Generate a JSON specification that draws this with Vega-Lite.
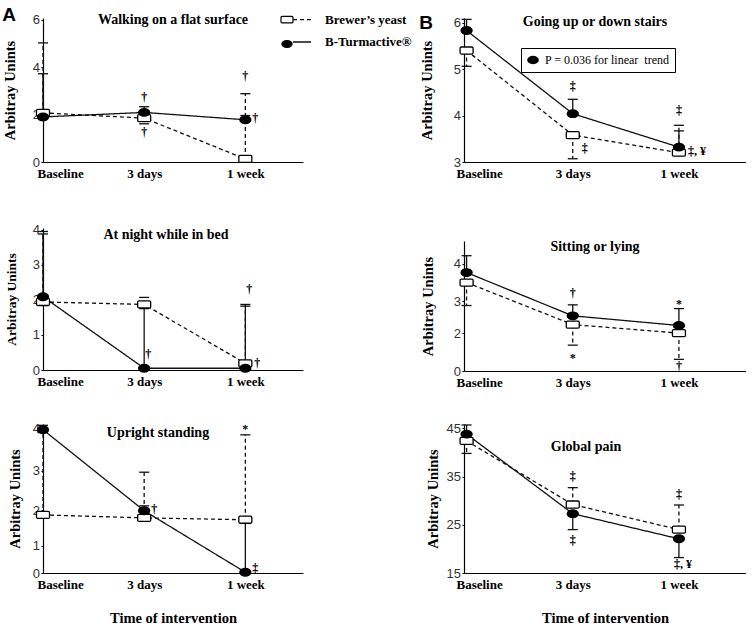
{
  "$schema": "https://vega.github.io/schema/vega-lite/v6.json",
  "background": "white",
  "padding": {"left": 2, "top": 5, "right": 0, "bottom": 0},
  "spacing": 7,
  "resolve": {"scale": {"shape": "independent", "fill": "independent", "stroke": "independent", "strokeDash": "independent"}},
  "config": {
    "view": {"stroke": null},
    "axisY": {"grid": false, "domainColor": "black", "domainWidth": 1.2, "tickColor": "black", "tickSize": 2, "labelPadding": 1.5, "labelFont": "Liberation Sans", "labelFontSize": 13, "labelColor": "#333333", "titleFont": "Liberation Serif", "titleFontWeight": "bold", "titleFontSize": 14.5, "titleColor": "black"},
    "axisX": {"grid": false, "domainColor": "black", "domainWidth": 1.2, "ticks": false, "labelPadding": 5, "labelAngle": 0, "labelFont": "Liberation Serif", "labelFontWeight": "bold", "labelFontSize": 13, "labelColor": "black", "titleFont": "Liberation Serif", "titleFontWeight": "bold", "titleFontSize": 14.5, "titleColor": "black", "titlePadding": 20},
    "title": {"font": "Liberation Serif", "fontWeight": "bold", "fontSize": 14, "color": "black", "anchor": "middle", "frame": "group", "baseline": "middle"},
    "text": {"font": "Liberation Serif", "fontSize": 12, "fontWeight": "bold", "baseline": "middle", "fill": "black"}
  },
  "datasets": {
    "series": [
      {"panel": "walk", "time": "Baseline", "group": "Brewer’s yeast", "value": 2.07, "err": 5.02},
      {"panel": "walk", "time": "Baseline", "group": "B-Turmactive®", "value": 1.9, "err": 3.72},
      {"panel": "walk", "time": "3 days", "group": "Brewer’s yeast", "value": 1.85, "err": 1.61},
      {"panel": "walk", "time": "3 days", "group": "B-Turmactive®", "value": 2.09, "err": 2.33},
      {"panel": "walk", "time": "1 week", "group": "Brewer’s yeast", "value": 0.13, "err": 2.88},
      {"panel": "walk", "time": "1 week", "group": "B-Turmactive®", "value": 1.78, "err": 1.96},
      {"panel": "night", "time": "Baseline", "group": "Brewer’s yeast", "value": 1.94, "err": 3.95},
      {"panel": "night", "time": "Baseline", "group": "B-Turmactive®", "value": 2.09, "err": 3.88},
      {"panel": "night", "time": "3 days", "group": "Brewer’s yeast", "value": 1.87, "err": 2.07},
      {"panel": "night", "time": "3 days", "group": "B-Turmactive®", "value": 0.05, "err": 1.75},
      {"panel": "night", "time": "1 week", "group": "Brewer’s yeast", "value": 0.19, "err": 1.87},
      {"panel": "night", "time": "1 week", "group": "B-Turmactive®", "value": 0.05, "err": 1.82},
      {"panel": "stand", "time": "Baseline", "group": "Brewer’s yeast", "value": 1.87, "err": 3.9},
      {"panel": "stand", "time": "Baseline", "group": "B-Turmactive®", "value": 3.97, "err": 4.07},
      {"panel": "stand", "time": "3 days", "group": "Brewer’s yeast", "value": 1.79, "err": 2.96},
      {"panel": "stand", "time": "3 days", "group": "B-Turmactive®", "value": 1.98, "err": 2.11},
      {"panel": "stand", "time": "1 week", "group": "Brewer’s yeast", "value": 1.74, "err": 3.85},
      {"panel": "stand", "time": "1 week", "group": "B-Turmactive®", "value": 0.05, "err": 1.7},
      {"panel": "stairs", "time": "Baseline", "group": "Brewer’s yeast", "value": 5.4, "err": 5.06},
      {"panel": "stairs", "time": "Baseline", "group": "B-Turmactive®", "value": 5.83, "err": 6.07},
      {"panel": "stairs", "time": "3 days", "group": "Brewer’s yeast", "value": 3.58, "err": 3.07},
      {"panel": "stairs", "time": "3 days", "group": "B-Turmactive®", "value": 4.04, "err": 4.35},
      {"panel": "stairs", "time": "1 week", "group": "Brewer’s yeast", "value": 3.2, "err": 3.79},
      {"panel": "stairs", "time": "1 week", "group": "B-Turmactive®", "value": 3.32, "err": 3.67},
      {"panel": "sit", "time": "Baseline", "group": "Brewer’s yeast", "value": 3.52, "err": 2.88},
      {"panel": "sit", "time": "Baseline", "group": "B-Turmactive®", "value": 3.78, "err": 4.2},
      {"panel": "sit", "time": "3 days", "group": "Brewer’s yeast", "value": 2.29, "err": 1.55},
      {"panel": "sit", "time": "3 days", "group": "B-Turmactive®", "value": 2.57, "err": 2.9},
      {"panel": "sit", "time": "1 week", "group": "Brewer’s yeast", "value": 2.0, "err": 0.91},
      {"panel": "sit", "time": "1 week", "group": "B-Turmactive®", "value": 2.26, "err": 2.79},
      {"panel": "pain", "time": "Baseline", "group": "Brewer’s yeast", "value": 42.4, "err": 39.8},
      {"panel": "pain", "time": "Baseline", "group": "B-Turmactive®", "value": 43.8, "err": 45.7},
      {"panel": "pain", "time": "3 days", "group": "Brewer’s yeast", "value": 29.2, "err": 32.7},
      {"panel": "pain", "time": "3 days", "group": "B-Turmactive®", "value": 27.3, "err": 24.0},
      {"panel": "pain", "time": "1 week", "group": "Brewer’s yeast", "value": 24.0, "err": 29.1},
      {"panel": "pain", "time": "1 week", "group": "B-Turmactive®", "value": 22.1, "err": 18.2}
    ],
    "notes": [
      {"panel": "walk", "time": "3 days", "text": "†", "value": 2.74, "pos": "c"},
      {"panel": "walk", "time": "3 days", "text": "†", "value": 1.25, "pos": "c"},
      {"panel": "walk", "time": "1 week", "text": "†", "value": 3.64, "pos": "c"},
      {"panel": "walk", "time": "1 week", "text": "†", "value": 1.85, "pos": "r"},
      {"panel": "night", "time": "3 days", "text": "†", "value": 0.46, "pos": "c"},
      {"panel": "night", "time": "1 week", "text": "†", "value": 2.3, "pos": "c"},
      {"panel": "night", "time": "1 week", "text": "†", "value": 0.19, "pos": "r"},
      {"panel": "stand", "time": "3 days", "text": "†", "value": 2.03, "pos": "r"},
      {"panel": "stand", "time": "1 week", "text": "*", "value": 3.98, "pos": "c"},
      {"panel": "stand", "time": "1 week", "text": "‡", "value": 0.25, "pos": "r"},
      {"panel": "stairs", "time": "3 days", "text": "‡", "value": 4.63, "pos": "c"},
      {"panel": "stairs", "time": "3 days", "text": "‡", "value": 3.31, "pos": "r"},
      {"panel": "stairs", "time": "1 week", "text": "‡", "value": 4.12, "pos": "c"},
      {"panel": "stairs", "time": "1 week", "text": "‡, ¥", "value": 3.24, "pos": "r"},
      {"panel": "sit", "time": "3 days", "text": "†", "value": 3.25, "pos": "c"},
      {"panel": "sit", "time": "3 days", "text": "*", "value": 1.0, "pos": "c"},
      {"panel": "sit", "time": "1 week", "text": "*", "value": 2.93, "pos": "c"},
      {"panel": "sit", "time": "1 week", "text": "†", "value": 0.55, "pos": "c"},
      {"panel": "pain", "time": "3 days", "text": "‡", "value": 35.1, "pos": "c"},
      {"panel": "pain", "time": "3 days", "text": "‡", "value": 21.8, "pos": "c"},
      {"panel": "pain", "time": "1 week", "text": "‡", "value": 31.4, "pos": "c"},
      {"panel": "pain", "time": "1 week", "text": "‡, ¥", "value": 16.8, "pos": "rl"}
    ]
  },
  "hconcat": [
    {
      "title": {"text": "A", "anchor": "start", "frame": "bounds", "font": "Liberation Sans", "fontSize": 19, "fontWeight": "bold", "baseline": "alphabetic", "offset": -29.8},
      "bounds": "flush",
      "spacing": 66,
      "resolve": {"scale": {"shape": "independent", "fill": "independent", "stroke": "independent", "strokeDash": "independent"}},
      "vconcat": [
        {
          "width": 260, "height": 144,
          "title": {"text": "Walking on a flat surface", "offset": -17.3, "dx": 0},
          "encoding": {
            "x": {"field": "time", "type": "ordinal", "sort": ["Baseline", "3 days", "1 week"], "scale": {"type": "point", "domain": ["Baseline", "3 days", "1 week"], "padding": 0.285, "align": 0}, "axis": {"title": null, "labelFlush": 5, "labelFlushOffset": 6}},
            "y": {"field": "value", "type": "quantitative", "scale": {"domain": [0, 6.07], "nice": false, "zero": false}, "axis": {"title": "Arbitray Unints", "values": [0, 2, 4, 6], "titlePadding": 15}}
          },
          "layer": [
            {"data": {"name": "series"}, "transform": [{"filter": "datum.panel === 'walk'"}], "mark": {"type": "line", "stroke": "#111111", "strokeWidth": 1.3},
             "encoding": {"strokeDash": {"field": "group", "type": "nominal", "scale": {"domain": ["B-Turmactive®", "Brewer’s yeast"], "range": [[1, 0], [4, 3]]},
               "legend": {"orient": "none", "legendX": 249, "legendY": -8.3, "title": null, "padding": 0, "values": ["Brewer’s yeast", "B-Turmactive®"], "symbolType": "stroke", "symbolSize": 324, "symbolStrokeWidth": 1.3, "symbolStrokeColor": "black", "labelOffset": 13, "rowPadding": 5.3, "labelFont": "Liberation Serif", "labelFontWeight": "bold", "labelFontSize": 13, "labelColor": "black", "labelLimit": 300}}}},
            {"data": {"name": "series"}, "transform": [{"filter": "datum.panel === 'walk'"}], "mark": {"type": "rule", "stroke": "#111111", "strokeWidth": 1.3},
             "encoding": {"y2": {"field": "err"}, "strokeDash": {"field": "group", "type": "nominal"}}},
            {"data": {"name": "series"}, "transform": [{"filter": "datum.panel === 'walk'"}], "mark": {"type": "tick", "color": "#111111", "thickness": 1.3, "size": 10, "orient": "horizontal", "opacity": 1},
             "encoding": {"y": {"field": "err", "type": "quantitative"}}},
            {"data": {"name": "series"}, "transform": [{"filter": "datum.panel === 'walk'"}], "mark": {"type": "point", "filled": true, "size": 169, "strokeWidth": 1.3, "opacity": 1},
             "encoding": {
               "fill": {"field": "group", "type": "nominal", "scale": {"domain": ["Brewer’s yeast", "B-Turmactive®"], "range": ["white", "black"]},
                 "legend": {"orient": "none", "legendX": 237, "legendY": -5.3, "title": null, "padding": 0, "symbolSize": 144, "symbolStrokeWidth": 1.2, "labelExpr": "''", "labelFontSize": 10, "labelOffset": 0, "rowPadding": 11.3}},
               "stroke": {"field": "group", "type": "nominal", "scale": {"domain": ["Brewer’s yeast", "B-Turmactive®"], "range": ["black", "black"]},
                 "legend": {"orient": "none", "legendX": 237, "legendY": -5.3, "title": null, "padding": 0, "symbolSize": 144, "symbolStrokeWidth": 1.2, "labelExpr": "''", "labelFontSize": 10, "labelOffset": 0, "rowPadding": 11.3}},
               "shape": {"field": "group", "type": "nominal", "scale": {"domain": ["Brewer’s yeast", "B-Turmactive®"], "range": ["M-0.82,-0.54 H0.82 A0.18,0.18 0 0 1 1,-0.36 V0.36 A0.18,0.18 0 0 1 0.82,0.54 H-0.82 A0.18,0.18 0 0 1 -1,0.36 V-0.36 A0.18,0.18 0 0 1 -0.82,-0.54 Z", "M-0.85,0 A0.85,0.58 0 1,1 0.85,0 A0.85,0.58 0 1,1 -0.85,0 Z"]},
                 "legend": {"orient": "none", "legendX": 237, "legendY": -5.3, "title": null, "padding": 0, "symbolSize": 144, "symbolStrokeWidth": 1.2, "labelExpr": "''", "labelFontSize": 10, "labelOffset": 0, "rowPadding": 11.3}}
             }},
            {"data": {"name": "notes"}, "transform": [{"filter": "datum.panel === 'walk' && datum.pos === 'c'"}], "mark": {"type": "text", "align": "center"}, "encoding": {"text": {"field": "text"}}},
            {"data": {"name": "notes"}, "transform": [{"filter": "datum.panel === 'walk' && datum.pos === 'r'"}], "mark": {"type": "text", "align": "left", "dx": 7}, "encoding": {"text": {"field": "text"}}}
          ]
        },
        {
          "bounds": "flush",
          "spacing": 54,
          "resolve": {"scale": {"shape": "independent", "fill": "independent", "stroke": "independent", "strokeDash": "independent"}},
          "vconcat": [
            {
              "width": 260, "height": 142,
              "title": {"text": "At night while in bed", "offset": -18.2, "dx": -7},
              "encoding": {
                "x": {"field": "time", "type": "ordinal", "sort": ["Baseline", "3 days", "1 week"], "scale": {"type": "point", "domain": ["Baseline", "3 days", "1 week"], "padding": 0.285, "align": 0}, "axis": {"title": null, "labelFlush": 5, "labelFlushOffset": 6}},
                "y": {"field": "value", "type": "quantitative", "scale": {"domain": [0, 4.05], "nice": false, "zero": false}, "axis": {"title": "Arbitray  Unints", "values": [0, 1, 2, 3, 4], "titlePadding": 14, "titleFontSize": 13.5}}
              },
              "layer": [
                {"data": {"name": "series"}, "transform": [{"filter": "datum.panel === 'night'"}], "mark": {"type": "line", "stroke": "#111111", "strokeWidth": 1.3},
                 "encoding": {"strokeDash": {"field": "group", "type": "nominal", "scale": {"domain": ["B-Turmactive®", "Brewer’s yeast"], "range": [[1, 0], [4, 3]]}, "legend": null}}},
                {"data": {"name": "series"}, "transform": [{"filter": "datum.panel === 'night'"}], "mark": {"type": "rule", "stroke": "#111111", "strokeWidth": 1.3},
                 "encoding": {"y2": {"field": "err"}, "strokeDash": {"field": "group", "type": "nominal", "legend": null}}},
                {"data": {"name": "series"}, "transform": [{"filter": "datum.panel === 'night'"}], "mark": {"type": "tick", "color": "#111111", "thickness": 1.3, "size": 10, "orient": "horizontal", "opacity": 1},
                 "encoding": {"y": {"field": "err", "type": "quantitative"}}},
                {"data": {"name": "series"}, "transform": [{"filter": "datum.panel === 'night'"}], "mark": {"type": "point", "filled": true, "size": 169, "stroke": "black", "strokeWidth": 1.3, "opacity": 1},
                 "encoding": {
                   "fill": {"field": "group", "type": "nominal", "scale": {"domain": ["Brewer’s yeast", "B-Turmactive®"], "range": ["white", "black"]}, "legend": null},
                   "shape": {"field": "group", "type": "nominal", "scale": {"domain": ["Brewer’s yeast", "B-Turmactive®"], "range": ["M-0.82,-0.54 H0.82 A0.18,0.18 0 0 1 1,-0.36 V0.36 A0.18,0.18 0 0 1 0.82,0.54 H-0.82 A0.18,0.18 0 0 1 -1,0.36 V-0.36 A0.18,0.18 0 0 1 -0.82,-0.54 Z", "M-0.85,0 A0.85,0.58 0 1,1 0.85,0 A0.85,0.58 0 1,1 -0.85,0 Z"]}, "legend": null}
                 }},
                {"data": {"name": "notes"}, "transform": [{"filter": "datum.panel === 'night' && datum.pos === 'c'"}], "mark": {"type": "text", "align": "center", "dx": 4}, "encoding": {"text": {"field": "text"}}},
                {"data": {"name": "notes"}, "transform": [{"filter": "datum.panel === 'night' && datum.pos === 'r'"}], "mark": {"type": "text", "align": "left", "dx": 9}, "encoding": {"text": {"field": "text"}}}
              ]
            },
            {
              "width": 260, "height": 149,
              "title": {"text": "Upright standing", "offset": -17.2, "dx": -15},
              "encoding": {
                "x": {"field": "time", "type": "ordinal", "sort": ["Baseline", "3 days", "1 week"], "scale": {"type": "point", "domain": ["Baseline", "3 days", "1 week"], "padding": 0.285, "align": 0}, "axis": {"title": "Time of intervention", "labelFlush": 5, "labelFlushOffset": 6}},
                "y": {"field": "value", "type": "quantitative", "scale": {"type": "pow", "exponent": 1.2, "domain": [0, 4.1], "nice": false, "zero": false}, "axis": {"title": "Arbitray Unints", "values": [0, 1, 2, 3, 4], "titlePadding": 10}}
              },
              "layer": [
                {"data": {"name": "series"}, "transform": [{"filter": "datum.panel === 'stand'"}], "mark": {"type": "line", "stroke": "#111111", "strokeWidth": 1.3},
                 "encoding": {"strokeDash": {"field": "group", "type": "nominal", "scale": {"domain": ["B-Turmactive®", "Brewer’s yeast"], "range": [[1, 0], [4, 3]]}, "legend": null}}},
                {"data": {"name": "series"}, "transform": [{"filter": "datum.panel === 'stand'"}], "mark": {"type": "rule", "stroke": "#111111", "strokeWidth": 1.3},
                 "encoding": {"y2": {"field": "err"}, "strokeDash": {"field": "group", "type": "nominal", "legend": null}}},
                {"data": {"name": "series"}, "transform": [{"filter": "datum.panel === 'stand'"}], "mark": {"type": "tick", "color": "#111111", "thickness": 1.3, "size": 10, "orient": "horizontal", "opacity": 1},
                 "encoding": {"y": {"field": "err", "type": "quantitative"}}},
                {"data": {"name": "series"}, "transform": [{"filter": "datum.panel === 'stand'"}], "mark": {"type": "point", "filled": true, "size": 169, "stroke": "black", "strokeWidth": 1.3, "opacity": 1},
                 "encoding": {
                   "fill": {"field": "group", "type": "nominal", "scale": {"domain": ["Brewer’s yeast", "B-Turmactive®"], "range": ["white", "black"]}, "legend": null},
                   "shape": {"field": "group", "type": "nominal", "scale": {"domain": ["Brewer’s yeast", "B-Turmactive®"], "range": ["M-0.82,-0.54 H0.82 A0.18,0.18 0 0 1 1,-0.36 V0.36 A0.18,0.18 0 0 1 0.82,0.54 H-0.82 A0.18,0.18 0 0 1 -1,0.36 V-0.36 A0.18,0.18 0 0 1 -0.82,-0.54 Z", "M-0.85,0 A0.85,0.58 0 1,1 0.85,0 A0.85,0.58 0 1,1 -0.85,0 Z"]}, "legend": null}
                 }},
                {"data": {"name": "notes"}, "transform": [{"filter": "datum.panel === 'stand' && datum.pos === 'c'"}], "mark": {"type": "text", "align": "center"}, "encoding": {"text": {"field": "text"}}},
                {"data": {"name": "notes"}, "transform": [{"filter": "datum.panel === 'stand' && datum.pos === 'r'"}], "mark": {"type": "text", "align": "left", "dx": 7}, "encoding": {"text": {"field": "text"}}}
              ]
            }
          ]
        }
      ]
    },
    {
      "title": {"text": "B", "anchor": "start", "frame": "bounds", "font": "Liberation Sans", "fontSize": 19, "fontWeight": "bold", "baseline": "alphabetic", "offset": -33.5},
      "bounds": "flush",
      "spacing": 79,
      "resolve": {"scale": {"shape": "independent", "fill": "independent", "stroke": "independent", "strokeDash": "independent"}},
      "vconcat": [
        {
          "width": 282, "height": 144,
          "title": {"text": "Going up or down stairs", "offset": -11.9, "dx": -10},
          "encoding": {
            "x": {"field": "time", "type": "ordinal", "sort": ["Baseline", "3 days", "1 week"], "scale": {"type": "point", "domain": ["Baseline", "3 days", "1 week"], "padding": 0.328, "align": 0.037}, "axis": {"title": null, "labelFlush": 20, "labelFlushOffset": 10.6}},
            "y": {"field": "value", "type": "quantitative", "scale": {"domain": [3, 6.1], "nice": false, "zero": false}, "axis": {"title": "Arbitray Unints", "values": [3, 4, 5, 6], "titlePadding": 19}}
          },
          "layer": [
            {"data": {"name": "series"}, "transform": [{"filter": "datum.panel === 'stairs'"}], "mark": {"type": "line", "stroke": "#111111", "strokeWidth": 1.3},
             "encoding": {"strokeDash": {"field": "group", "type": "nominal", "scale": {"domain": ["B-Turmactive®", "Brewer’s yeast"], "range": [[1, 0], [4, 3]]}, "legend": null}}},
            {"data": {"name": "series"}, "transform": [{"filter": "datum.panel === 'stairs'"}], "mark": {"type": "rule", "stroke": "#111111", "strokeWidth": 1.3},
             "encoding": {"y2": {"field": "err"}, "strokeDash": {"field": "group", "type": "nominal", "legend": null}}},
            {"data": {"name": "series"}, "transform": [{"filter": "datum.panel === 'stairs'"}], "mark": {"type": "tick", "color": "#111111", "thickness": 1.3, "size": 10, "orient": "horizontal", "opacity": 1},
             "encoding": {"y": {"field": "err", "type": "quantitative"}}},
            {"data": {"name": "series"}, "transform": [{"filter": "datum.panel === 'stairs'"}], "mark": {"type": "point", "filled": true, "size": 169, "stroke": "black", "strokeWidth": 1.3, "opacity": 1},
             "encoding": {
               "fill": {"field": "group", "type": "nominal", "scale": {"domain": ["Brewer’s yeast", "B-Turmactive®"], "range": ["white", "black"]},
                 "legend": {"orient": "none", "legendX": 57, "legendY": 30, "values": ["B-Turmactive®"], "labelExpr": "'P = 0.036 for linear\u00a0 trend\u2007\u2007\u2007\u2007\u2007\u2007'", "title": null, "padding": 5, "strokeColor": "black", "symbolSize": 144, "labelOffset": 5, "labelFont": "Liberation Serif", "labelFontSize": 12, "labelColor": "black", "labelLimit": 400}},
               "shape": {"field": "group", "type": "nominal", "scale": {"domain": ["Brewer’s yeast", "B-Turmactive®"], "range": ["M-0.82,-0.54 H0.82 A0.18,0.18 0 0 1 1,-0.36 V0.36 A0.18,0.18 0 0 1 0.82,0.54 H-0.82 A0.18,0.18 0 0 1 -1,0.36 V-0.36 A0.18,0.18 0 0 1 -0.82,-0.54 Z", "M-0.85,0 A0.85,0.58 0 1,1 0.85,0 A0.85,0.58 0 1,1 -0.85,0 Z"]},
                 "legend": {"orient": "none", "legendX": 57, "legendY": 30, "values": ["B-Turmactive®"], "labelExpr": "'P = 0.036 for linear\u00a0 trend\u2007\u2007\u2007\u2007\u2007\u2007'", "title": null, "padding": 5, "strokeColor": "black", "symbolSize": 144, "labelOffset": 5, "labelFont": "Liberation Serif", "labelFontSize": 12, "labelColor": "black", "labelLimit": 400}}
             }},
            {"data": {"name": "notes"}, "transform": [{"filter": "datum.panel === 'stairs' && datum.pos === 'c'"}], "mark": {"type": "text", "align": "center"}, "encoding": {"text": {"field": "text"}}},
            {"data": {"name": "notes"}, "transform": [{"filter": "datum.panel === 'stairs' && datum.pos === 'r'"}], "mark": {"type": "text", "align": "left", "dx": 9}, "encoding": {"text": {"field": "text"}}}
          ]
        },
        {
          "bounds": "flush",
          "spacing": 53,
          "resolve": {"scale": {"shape": "independent", "fill": "independent", "stroke": "independent", "strokeDash": "independent"}},
          "vconcat": [
            {
              "width": 282, "height": 130,
              "title": {"text": "Sitting or lying", "offset": -13, "dx": -10},
              "encoding": {
                "x": {"field": "time", "type": "ordinal", "sort": ["Baseline", "3 days", "1 week"], "scale": {"type": "point", "domain": ["Baseline", "3 days", "1 week"], "padding": 0.328, "align": 0.037}, "axis": {"title": null, "labelFlush": 20, "labelFlushOffset": 10.6}},
                "y": {"field": "value", "type": "quantitative", "scale": {"type": "pow", "exponent": 1.5, "domain": [0, 4.55], "nice": false, "zero": false}, "axis": {"title": "Arbitray Unints", "values": [0, 2, 3, 4], "titlePadding": 18}}
              },
              "layer": [
                {"data": {"name": "series"}, "transform": [{"filter": "datum.panel === 'sit'"}], "mark": {"type": "line", "stroke": "#111111", "strokeWidth": 1.3},
                 "encoding": {"strokeDash": {"field": "group", "type": "nominal", "scale": {"domain": ["B-Turmactive®", "Brewer’s yeast"], "range": [[1, 0], [4, 3]]}, "legend": null}}},
                {"data": {"name": "series"}, "transform": [{"filter": "datum.panel === 'sit'"}], "mark": {"type": "rule", "stroke": "#111111", "strokeWidth": 1.3},
                 "encoding": {"y2": {"field": "err"}, "strokeDash": {"field": "group", "type": "nominal", "legend": null}}},
                {"data": {"name": "series"}, "transform": [{"filter": "datum.panel === 'sit'"}], "mark": {"type": "tick", "color": "#111111", "thickness": 1.3, "size": 10, "orient": "horizontal", "opacity": 1},
                 "encoding": {"y": {"field": "err", "type": "quantitative"}}},
                {"data": {"name": "series"}, "transform": [{"filter": "datum.panel === 'sit'"}], "mark": {"type": "point", "filled": true, "size": 169, "stroke": "black", "strokeWidth": 1.3, "opacity": 1},
                 "encoding": {
                   "fill": {"field": "group", "type": "nominal", "scale": {"domain": ["Brewer’s yeast", "B-Turmactive®"], "range": ["white", "black"]}, "legend": null},
                   "shape": {"field": "group", "type": "nominal", "scale": {"domain": ["Brewer’s yeast", "B-Turmactive®"], "range": ["M-0.82,-0.54 H0.82 A0.18,0.18 0 0 1 1,-0.36 V0.36 A0.18,0.18 0 0 1 0.82,0.54 H-0.82 A0.18,0.18 0 0 1 -1,0.36 V-0.36 A0.18,0.18 0 0 1 -0.82,-0.54 Z", "M-0.85,0 A0.85,0.58 0 1,1 0.85,0 A0.85,0.58 0 1,1 -0.85,0 Z"]}, "legend": null}
                 }},
                {"data": {"name": "notes"}, "transform": [{"filter": "datum.panel === 'sit' && datum.pos === 'c'"}], "mark": {"type": "text", "align": "center"}, "encoding": {"text": {"field": "text"}}}
              ]
            },
            {
              "width": 282, "height": 149,
              "title": {"text": "Global pain", "offset": -31.6, "dx": -19},
              "encoding": {
                "x": {"field": "time", "type": "ordinal", "sort": ["Baseline", "3 days", "1 week"], "scale": {"type": "point", "domain": ["Baseline", "3 days", "1 week"], "padding": 0.328, "align": 0.037}, "axis": {"title": "Time of intervention", "labelFlush": 20, "labelFlushOffset": 10.6}},
                "y": {"field": "value", "type": "quantitative", "scale": {"domain": [15, 45.9], "nice": false, "zero": false}, "axis": {"title": "Arbitray Unints", "values": [15, 25, 35, 45], "titlePadding": 6}}
              },
              "layer": [
                {"data": {"name": "series"}, "transform": [{"filter": "datum.panel === 'pain'"}], "mark": {"type": "line", "stroke": "#111111", "strokeWidth": 1.3},
                 "encoding": {"strokeDash": {"field": "group", "type": "nominal", "scale": {"domain": ["B-Turmactive®", "Brewer’s yeast"], "range": [[1, 0], [4, 3]]}, "legend": null}}},
                {"data": {"name": "series"}, "transform": [{"filter": "datum.panel === 'pain'"}], "mark": {"type": "rule", "stroke": "#111111", "strokeWidth": 1.3},
                 "encoding": {"y2": {"field": "err"}, "strokeDash": {"field": "group", "type": "nominal", "legend": null}}},
                {"data": {"name": "series"}, "transform": [{"filter": "datum.panel === 'pain'"}], "mark": {"type": "tick", "color": "#111111", "thickness": 1.3, "size": 10, "orient": "horizontal", "opacity": 1},
                 "encoding": {"y": {"field": "err", "type": "quantitative"}}},
                {"data": {"name": "series"}, "transform": [{"filter": "datum.panel === 'pain'"}], "mark": {"type": "point", "filled": true, "size": 169, "stroke": "black", "strokeWidth": 1.3, "opacity": 1},
                 "encoding": {
                   "fill": {"field": "group", "type": "nominal", "scale": {"domain": ["Brewer’s yeast", "B-Turmactive®"], "range": ["white", "black"]}, "legend": null},
                   "shape": {"field": "group", "type": "nominal", "scale": {"domain": ["Brewer’s yeast", "B-Turmactive®"], "range": ["M-0.82,-0.54 H0.82 A0.18,0.18 0 0 1 1,-0.36 V0.36 A0.18,0.18 0 0 1 0.82,0.54 H-0.82 A0.18,0.18 0 0 1 -1,0.36 V-0.36 A0.18,0.18 0 0 1 -0.82,-0.54 Z", "M-0.85,0 A0.85,0.58 0 1,1 0.85,0 A0.85,0.58 0 1,1 -0.85,0 Z"]}, "legend": null}
                 }},
                {"data": {"name": "notes"}, "transform": [{"filter": "datum.panel === 'pain' && datum.pos === 'c'"}], "mark": {"type": "text", "align": "center"}, "encoding": {"text": {"field": "text"}}},
                {"data": {"name": "notes"}, "transform": [{"filter": "datum.panel === 'pain' && datum.pos === 'rl'"}], "mark": {"type": "text", "align": "left", "dx": -5}, "encoding": {"text": {"field": "text"}}}
              ]
            }
          ]
        }
      ]
    }
  ]
}
